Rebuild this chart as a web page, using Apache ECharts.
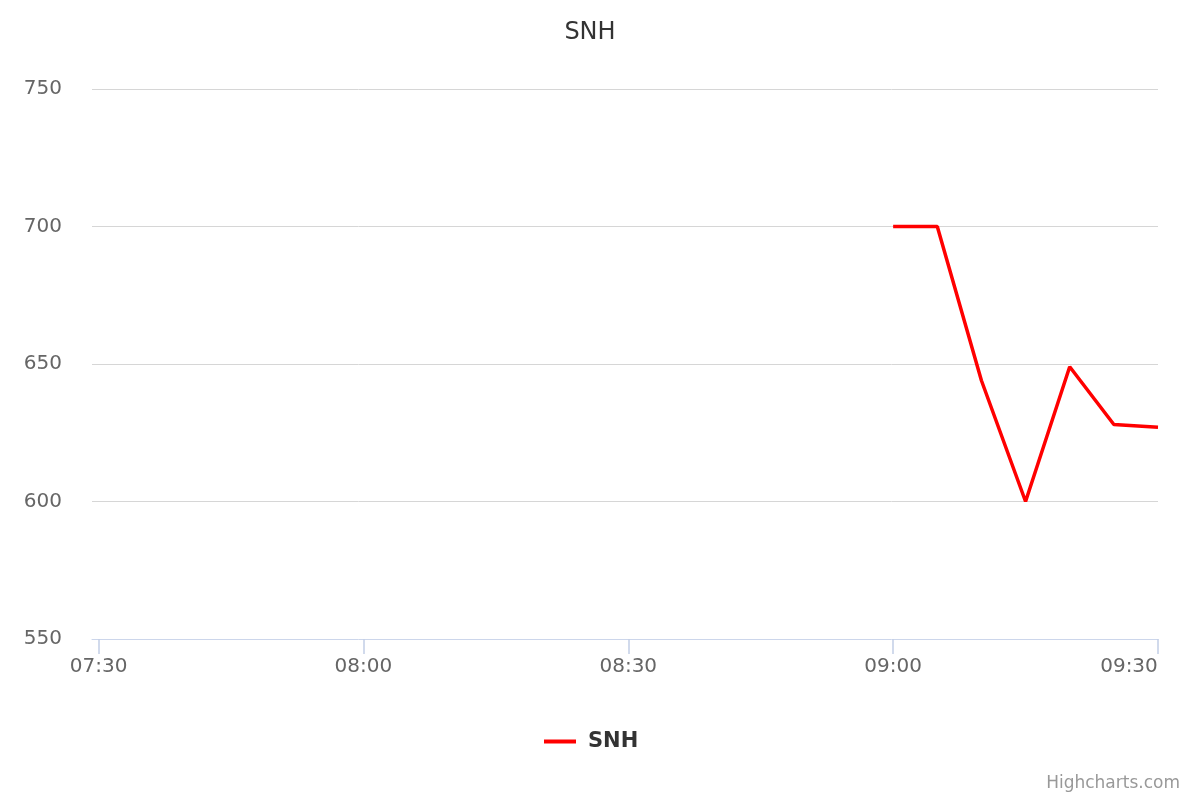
<!DOCTYPE html>
<html>
<head>
<meta charset="utf-8">
<script src="https://cdn.jsdelivr.net/npm/echarts@6/dist/echarts.min.js"></script>
<style>
  html, body { margin: 0; padding: 0; background: #fff; }
  #chart { width: 1200px; height: 800px; }
</style>
</head>
<body>
<div id="chart"></div>
<script>
const times = ['09:00', '09:05', '09:10', '09:15', '09:20', '09:25', '09:30']
const snhValues = [700, 700, 644, 600, 649, 628, 627]
const xTickLabels = ['07:30', '08:00', '08:30', '09:00', '09:30']
const yTicks = [550, 600, 650, 700, 750]

// time of day as minutes since midnight
function toMinutes(hm) {
  const [h, m] = hm.split(':').map(Number)
  return h * 60 + m
}
function pad(n) {
  return n.toString().padStart(2, '0')
}
function formatMinutes(v) {
  const total = Math.round(v)
  return pad(Math.floor(total / 60)) + ':' + pad(total % 60)
}

const xTickValues = xTickLabels.map(toMinutes)
const lastTick = xTickValues[xTickValues.length - 1]

const font = 'DejaVu Sans'
const chart = echarts.init(document.getElementById('chart'))

const option = {
  animation: false,
  backgroundColor: '#ffffff',
  textStyle: { fontFamily: font },
  title: [
    {
      text: 'SNH',
      left: 585,
      top: 16,
      textAlign: 'center',
      textStyle: { fontFamily: font, fontSize: 24, fontWeight: 'normal', color: '#333333' }
    },
    {
      text: 'Highcharts.com',
      right: 15,
      bottom: 3,
      textStyle: { fontFamily: font, fontSize: 17, fontWeight: 'normal', color: '#999999' }
    }
  ],
  legend: {
    left: 539,
    top: 726,
    itemWidth: 32,
    itemHeight: 4,
    icon: 'rect',
    textStyle: { fontFamily: font, fontSize: 21, fontWeight: 'bold', color: '#333333', padding: [0, 0, 0, 7] },
    data: ['SNH']
  },
  grid: { left: 92, right: 42, top: 89, bottom: 161 },
  xAxis: {
    type: 'value',
    z: 5,
    min: xTickValues[0] - 0.74,
    max: lastTick,
    axisLine: { lineStyle: { color: '#ccd6eb', width: 1 } },
    axisTick: { show: true, length: 15, customValues: xTickValues, lineStyle: { color: '#c2cee6', width: 1.5 } },
    splitLine: { show: false },
    axisLabel: {
      color: '#666666',
      fontSize: 20,
      margin: 18,
      customValues: xTickValues,
      formatter: function (value) {
        const label = formatMinutes(value)
        return value === lastTick ? '{last|' + label + '}' : label
      },
      rich: {
        last: { fontFamily: font, fontSize: 20, color: '#666666', padding: [0, 58, 0, 0] }
      }
    }
  },
  yAxis: {
    type: 'value',
    min: yTicks[0],
    max: yTicks[yTicks.length - 1],
    interval: 50,
    axisLine: { show: false },
    axisTick: { show: false },
    splitLine: { showMinLine: false, lineStyle: { color: '#d6d6d6', width: 1 } },
    axisLabel: { color: '#666666', fontSize: 20, margin: 30 }
  },
  series: [
    {
      name: 'SNH',
      type: 'line',
      symbol: 'none',
      color: '#ff0000',
      lineStyle: { color: '#ff0000', width: 3.5 },
      data: times.map((t, i) => [toMinutes(t), snhValues[i]])
    }
  ]
}

chart.setOption(option)
</script>
</body>
</html>
